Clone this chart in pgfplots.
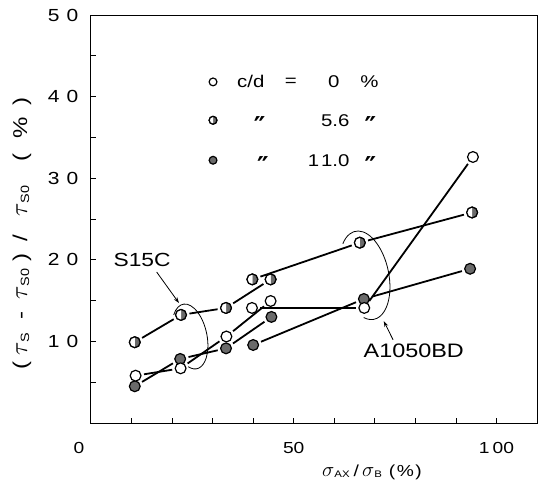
\documentclass[border=0pt]{standalone}
\usepackage{fontspec}
\setmainfont{Liberation Sans}[FakeStretch=1.2]
\newfontfamily\dejavu{DejaVu Sans}
\usepackage{pgfplots}
\pgfplotsset{compat=1.18}
\usetikzlibrary{arrows.meta}
\newcommand\fs[1]{\fontsize{#1bp}{#1bp}\selectfont}
\newcommand\gap{\hspace{7bp}}
\newcommand\dq{{\dejavu\bfseries\fs{26}\char"2033}}
\newcommand\tauS[1]{{\fs{25}$\tau$}{\fs{12}\raisebox{-2bp}{#1}}}
\newcommand\sig[1]{{\fs{19}$\sigma$}{\fs{9.5}\raisebox{-1.5bp}{#1}}}
\definecolor{mk}{HTML}{6A6A6A}
\pgfplotsset{
  seg/.style={black, line width=1.8bp, shorten <=8.5bp, shorten >=8.5bp, no markers, forget plot},
  openm/.style={only marks, mark=*, mark size=5.4bp, mark options={fill=white, draw=black, line width=1.2bp}, forget plot},
  fullm/.style={only marks, mark=*, mark size=5.4bp, mark options={fill=mk, draw=black, line width=1.2bp}, forget plot},
  halfm/.style={only marks, mark=halfcircle*, mark size=5.4bp, mark options={rotate=-90, fill=mk, draw=black, line width=1.2bp}, forget plot},
}
\begin{document}
\begin{tikzpicture}
\path[use as bounding box] (-91bp,-62bp) rectangle (453bp,423bp);
\begin{axis}[
  at={(0,0)}, anchor=south west,
  scale only axis, width=446bp, height=408bp,
  xmin=0, xmax=110, ymin=0, ymax=50,
  clip=false,
  tick pos=left, tick align=inside,
  major tick length=5bp,
  axis line style={line width=1bp},
  every tick/.style={black, line width=0.8bp},
  xtick={10,20,...,100},
  xticklabels={,,,,50,,,,,1\hspace{3bp}00},
  extra x ticks={0}, extra x tick labels={0},
  extra x tick style={major tick length=0pt, xticklabel style={xshift=-12bp}},
  ytick={5,10,...,50},
  yticklabels={,1\gap0,,2\gap0,,3\gap0,,4\gap0,,5\gap0},
  xticklabel style={font=\fs{16}, anchor=center, inner sep=0pt, yshift=-24.5bp},
  yticklabel style={font=\fs{17.5}, anchor=east, inner sep=0pt, xshift=-12.5bp},
  xlabel={\sig{AX}\hspace{4bp}/\hspace{3bp}\sig{B}\hspace{7bp}(\hspace{1.5bp}\%\hspace{1.5bp})},
  xlabel style={at={(axis description cs:0.63,-0.120)}, anchor=center, font=\fs{16}},
  ylabel={\makebox[14bp]{(}\makebox[28bp]{\tauS{S}}\makebox[30bp]{-}\makebox[32bp]{\tauS{S0}}\makebox[22bp]{)}\makebox[16bp]{/}\makebox[58bp]{\tauS{S0}}\makebox[30bp]{(}\makebox[28bp]{\%}\makebox[26bp]{)}},
  ylabel style={at={(axis description cs:-0.1547,0.473)}, anchor=center, font=\fs{20}},
]
% ---- connecting lines: S15C ----
\addplot[seg] coordinates {(11,5.8) (22.1,6.7)};
\addplot[seg] coordinates {(22.1,6.7) (33.4,10.6)};
\addplot[seg] coordinates {(33.4,10.6) (44.3,14.95)};
\addplot[seg] coordinates {(10.8,9.9) (22.2,13.25)};
\addplot[seg] coordinates {(22.2,13.25) (33.3,14.1)};
\addplot[seg] coordinates {(33.3,14.1) (44.3,17.6)};
\addplot[seg] coordinates {(10.8,4.5) (22,7.85)};
\addplot[seg] coordinates {(22,7.85) (33.3,9.15)};
\addplot[seg] coordinates {(33.3,9.15) (44.5,13.0)};
% ---- connecting lines: A1050BD ----
\addplot[seg] coordinates {(39.7,14.1) (67.4,14.1)};
\addplot[seg] coordinates {(67.4,14.1) (94.2,32.6)};
\addplot[seg] coordinates {(39.8,17.6) (66.3,22.1)};
\addplot[seg] coordinates {(66.3,22.1) (94.0,25.8)};
\addplot[seg] coordinates {(40.0,9.56) (67.3,15.2)};
\addplot[seg] coordinates {(67.3,15.2) (93.5,18.9)};
% ---- markers: c/d = 11.0 % ----
\addplot[fullm] coordinates {(10.8,4.5) (22,7.85) (33.3,9.15) (44.5,13.0) (40.0,9.56) (67.3,15.2) (93.5,18.9)};
% ---- markers: c/d = 5.6 % ----
\addplot[openm] coordinates {(10.8,9.9) (22.2,13.25) (33.3,14.1) (44.3,17.6) (39.8,17.6) (66.3,22.1) (94.0,25.8)};
\addplot[halfm] coordinates {(10.8,9.9) (22.2,13.25) (33.3,14.1) (44.3,17.6) (39.8,17.6) (66.3,22.1) (94.0,25.8)};
% ---- markers: c/d = 0 % ----
\addplot[openm] coordinates {(11,5.8) (22.1,6.7) (33.4,10.6) (44.3,14.95) (39.7,14.1) (67.4,14.1) (94.2,32.6)};
% ---- legend ----
\addplot[openm, mark size=3.9bp] coordinates {(30.1,41.8)};
\addplot[openm, mark size=3.9bp] coordinates {(30.1,37.1)};
\addplot[halfm, mark size=3.9bp] coordinates {(30.1,37.1)};
\addplot[fullm, mark size=3.9bp] coordinates {(30.1,32.2)};
\node[font=\fs{17}, anchor=west, inner sep=0pt] at (axis cs:36.0,41.8) {c/d};
\node[font=\fs{17}, inner sep=0pt] at (axis cs:49.3,41.8) {=};
\node[font=\fs{17}, anchor=east, inner sep=0pt] at (axis cs:61.3,41.8) {0};
\node[font=\fs{17}, inner sep=0pt] at (axis cs:68.7,41.8) {\%};
\node[inner sep=0pt] at (axis cs:41.6,36.4) {\dq};
\node[font=\fs{17}, anchor=east, inner sep=0pt] at (axis cs:63.8,37.1) {5.6};
\node[inner sep=0pt] at (axis cs:68.9,36.4) {\dq};
\node[inner sep=0pt] at (axis cs:42.4,31.5) {\dq};
\node[font=\fs{17}, anchor=east, inner sep=0pt] at (axis cs:63.8,32.2) {1\hspace{2bp}1.0};
\node[inner sep=0pt] at (axis cs:68.9,31.5) {\dq};
% ---- annotations ----
\draw[line width=0.8bp, shift={(axis cs:24.4,10.6)}, rotate=12]
  (132:17bp and 33bp) arc[start angle=132, end angle=-118, x radius=17bp, y radius=33bp];
\draw[line width=0.8bp, shift={(axis cs:67.5,18.1)}, rotate=12]
  (128:24bp and 45bp) arc[start angle=128, end angle=-114, x radius=24bp, y radius=45bp];
\draw[line width=0.8bp, -{Stealth[length=6bp,width=4bp]}] (axis cs:16.2,18.5) -- (axis cs:21.7,14.7);
\draw[line width=0.8bp, -{Stealth[length=6bp,width=4bp]}] (axis cs:74.5,10.2) -- (axis cs:72.2,12.5);
\node[font=\fs{19}, inner sep=0pt] at (axis cs:12.6,20.0) {S15C};
\node[font=\fs{19.5}, inner sep=0pt] at (axis cs:79.6,8.9) {A1050BD};
\end{axis}
\end{tikzpicture}
\end{document}
